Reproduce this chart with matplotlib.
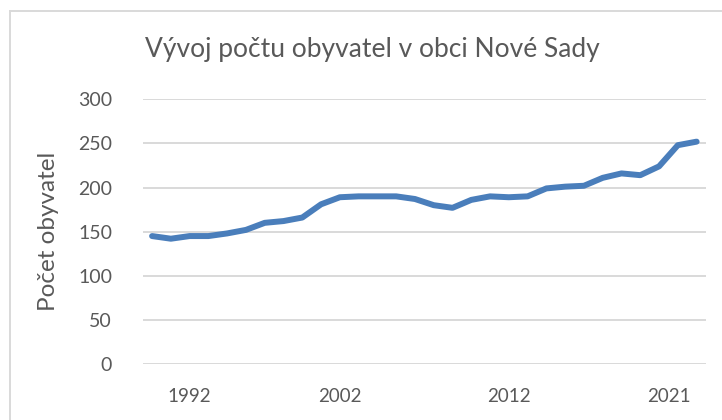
import matplotlib
matplotlib.use("Agg")
import matplotlib.pyplot as plt
from matplotlib.lines import Line2D
from matplotlib.transforms import ScaledTranslation

years = [1990, 1991, 1992, 1993, 1994, 1995, 1996, 1997, 1999, 2001,
         2002, 2003, 2004, 2005, 2006, 2007, 2008, 2009, 2011, 2012,
         2013, 2014, 2015, 2016, 2017, 2018, 2019, 2020, 2021, 2022]
population = [145, 142, 145, 145, 148, 152, 160, 162, 166, 181,
              189, 190, 190, 190, 187, 180, 177, 186, 190, 189,
              190, 199, 201, 202, 211, 216, 214, 224, 248, 252]
labeled_years = [1992, 2002, 2012, 2021]
y_ticks = [0, 50, 100, 150, 200, 250, 300]

title = "Vývoj počtu obyvatel v obci Nové Sady"
ylabel = "Počet obyvatel"

plt.rcParams['font.family'] = ['Lato', 'DejaVu Sans']
text_color = "#595959"
grid_color = "#D9D9D9"
line_color = "#4A7EBB"

W, H = 722, 420
fig = plt.figure(figsize=(W / 100, H / 100), dpi=100)
fig.patch.set_facecolor("white")

left, right = 142.7 / W, 706 / W
bottom, top = 1 - 364 / H, 1 - 99.3 / H
ax = fig.add_axes([left, bottom, right - left, top - bottom])

x = list(range(len(years)))
ax.plot(x, population, color=line_color, linewidth=4.3,
        solid_capstyle="round", solid_joinstyle="round", zorder=3)

ax.set_xlim(-0.5, len(years) - 0.5)
ax.set_ylim(0, 300)
ax.set_yticks(y_ticks)
ax.yaxis.grid(True, color=grid_color, linewidth=1.4)
ax.set_axisbelow(True)

tick_pos = [years.index(yv) for yv in labeled_years]
ax.set_xticks(tick_pos)
ax.set_xticklabels([str(yv) for yv in labeled_years])

for s in ax.spines.values():
    s.set_visible(False)
ax.tick_params(axis="both", length=0, colors=text_color)
ax.tick_params(axis="y", labelsize=14, pad=22)
ax.tick_params(axis="x", labelsize=13.5, pad=17)
# the last label sits a little to the left in the reference
lbls = ax.get_xticklabels()
lbls[-1].set_transform(lbls[-1].get_transform() + ScaledTranslation(-9 / 100, 0, fig.dpi_scale_trans))

ax.set_ylabel(ylabel, fontsize=17.5, color=text_color, labelpad=14)

fig.text(372.5 / W, 1 - 50 / H, title, ha="center", va="center",
         fontsize=19, color=text_color)

# chart area border (left and top visible)
bx, by = 10 / W, 1 - 11 / H
fig.add_artist(Line2D([bx, bx], [0, by], transform=fig.transFigure, color=grid_color, linewidth=1.4))
fig.add_artist(Line2D([bx, 1], [by, by], transform=fig.transFigure, color=grid_color, linewidth=1.4))

fig.savefig("out.png", dpi=100, facecolor="white")
